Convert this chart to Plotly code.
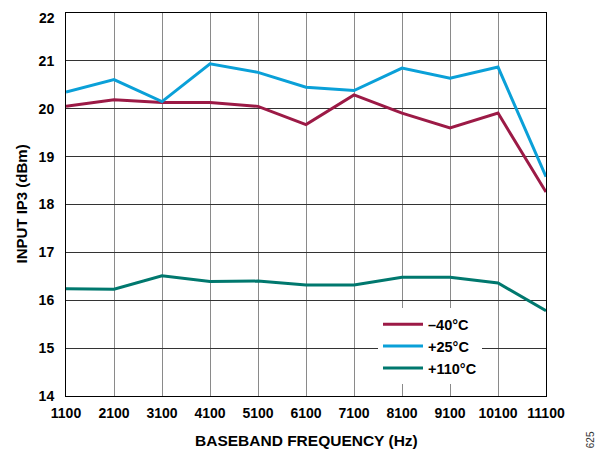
import plotly.graph_objects as go

freq = [1100, 2100, 3100, 4100, 5100, 6100, 7100, 8100, 9100, 10100, 11100]
m40 = [20.05, 20.19, 20.13, 20.13, 20.05, 19.67, 20.29, 19.91, 19.60, 19.91, 18.26]
p25 = [20.35, 20.61, 20.15, 20.94, 20.76, 20.45, 20.38, 20.85, 20.64, 20.87, 18.58]
p110 = [16.24, 16.23, 16.51, 16.39, 16.40, 16.32, 16.32, 16.48, 16.48, 16.36, 15.78]
y_ticks = [14, 15, 16, 17, 18, 19, 20, 21, 22]
names = ["–40°C", "+25°C", "+110°C"]
colors = ["#9c1a46", "#0aa0d8", "#00786e"]

FAM = "Liberation Sans, Arial, sans-serif"

fig = go.Figure()
for y, n, c in zip([m40, p25, p110], names, colors):
    fig.add_trace(go.Scatter(x=freq, y=y, name=n, mode="lines",
                             line=dict(color=c, width=3)))

# page body has an 8px default margin, so the figure is 8px smaller and margins shifted
fig.update_layout(
    width=596, height=444,
    margin=dict(l=58, r=58, t=5, b=56, autoexpand=False),
    plot_bgcolor="white", paper_bgcolor="white",
    font=dict(family=FAM, size=14, color="black", weight="bold"),
    showlegend=True,
    legend=dict(x=0.650, y=0.229, xanchor="left", yanchor="top",
                bgcolor="white", borderwidth=0,
                font=dict(family=FAM, size=14.5, color="black", weight="bold"),
                tracegroupgap=0, itemwidth=40),
    xaxis=dict(range=[1100, 11100], tickvals=freq, ticktext=[str(f) for f in freq],
               showgrid=True, gridcolor="#8a8a8a", gridwidth=1,
               showline=True, linecolor="black", linewidth=1, mirror=True,
               ticks="", zeroline=False, automargin=False,
               tickfont=dict(size=14), ticklabelstandoff=4,
               ticklabeloverflow="allow"),
    yaxis=dict(range=[y_ticks[0], y_ticks[-1]], tickvals=y_ticks[:-1],
               ticktext=[str(v) for v in y_ticks[:-1]],
               showgrid=True, gridcolor="#333333", gridwidth=1,
               showline=True, linecolor="black", linewidth=1, mirror=True,
               ticks="", zeroline=False, automargin=False,
               tickfont=dict(size=14), ticklabelstandoff=8,
               ticklabeloverflow="allow"),
)
# top tick label placed as annotation so it stays inside the page
fig.add_annotation(text=str(y_ticks[-1]), xref="paper", yref="paper",
                   x=-0.019, y=1.013, xanchor="right", yanchor="top",
                   showarrow=False, font=dict(family=FAM, size=14, weight="bold"))
fig.add_annotation(text="BASEBAND FREQUENCY (Hz)", xref="paper", yref="paper",
                   x=0.5, y=-0.1149, xanchor="center", yanchor="middle",
                   showarrow=False, font=dict(family=FAM, size=15.5, weight="bold"))
fig.add_annotation(text="INPUT IP3 (dBm)", xref="paper", yref="paper",
                   x=-0.09375, y=0.5, xanchor="center", yanchor="middle",
                   showarrow=False, textangle=-90,
                   font=dict(family=FAM, size=15, weight="bold"))
fig.add_annotation(text="625", xref="paper", yref="paper", x=1.092, y=-0.115,
                   xanchor="center", yanchor="middle",
                   showarrow=False, textangle=-90,
                   font=dict(family=FAM, size=10, weight="normal", color="#333333"))
fig.write_html("out.html")
